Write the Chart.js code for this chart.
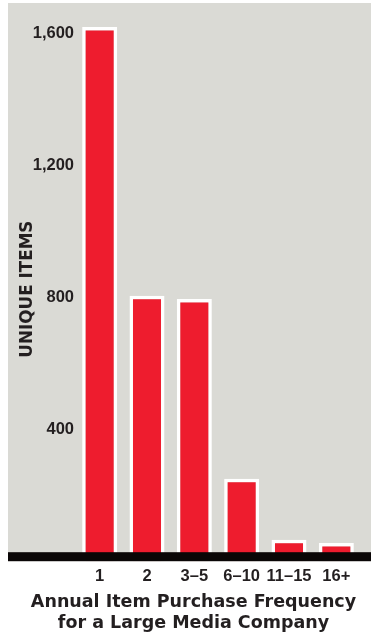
<!DOCTYPE html>
<html>
<head>
<meta charset="utf-8">
<script src="https://cdn.jsdelivr.net/npm/chart.js@4/dist/chart.umd.min.js"></script>
<style>
  html, body { margin: 0; padding: 0; background: #ffffff; }
  #wrap { width: 371px; height: 638px; }
</style>
</head>
<body>
<div id="wrap"><canvas id="chart" width="371" height="638"></canvas></div>
<script>
// Purchase-frequency buckets and how many unique items fall in each
const categories = ['1', '2', '3–5', '6–10', '11–15', '16+'];
const uniqueItems = [1620, 805, 795, 250, 65, 55];
const yTickValues = [400, 800, 1200, 1600];
const xTitleLines = ['Annual Item Purchase Frequency', 'for a Large Media Company'];
const yTitle = 'UNIQUE ITEMS';

const INK = '#231f20';
const BAR_RED = '#ee1c2e';
const PANEL = '#dadad5';

// Grey backdrop behind the plot and the heavy black baseline under the bars
const panelPlugin = {
  id: 'panel',
  beforeDraw(chart) {
    const { ctx, width } = chart;
    const base = chart.scales.y.getPixelForValue(0);
    ctx.save();
    ctx.fillStyle = PANEL;
    ctx.fillRect(8, 3, width - 8, base - 3);
    ctx.restore();
  },
  afterDatasetsDraw(chart) {
    const { ctx, width } = chart;
    const base = chart.scales.y.getPixelForValue(0);
    ctx.save();
    ctx.fillStyle = '#0a0606';
    ctx.fillRect(8, base - 9, width - 8, 9);
    ctx.restore();
  }
};

new Chart(document.getElementById('chart'), {
  type: 'bar',
  data: {
    labels: categories,
    datasets: [{
      data: uniqueItems,
      backgroundColor: BAR_RED,
      borderColor: '#ffffff',
      borderWidth: 3.5,
      borderSkipped: 'start',
      barPercentage: 0.74,
      categoryPercentage: 1
    }]
  },
  options: {
    responsive: false,
    animation: false,
    devicePixelRatio: 1,
    layout: { padding: { left: 16, right: 0, top: 17, bottom: 0 } },
    plugins: {
      legend: { display: false },
      tooltip: { enabled: false },
      title: {
        display: true,
        position: 'bottom',
        text: xTitleLines,
        color: INK,
        font: { family: 'DejaVu Sans', weight: 'bold', size: 17.5, lineHeight: 1.2 },
        padding: { top: 1, bottom: 4 }
      }
    },
    scales: {
      x: {
        grid: { display: false, drawTicks: false },
        border: { display: false },
        ticks: {
          color: INK,
          font: { family: 'Liberation Sans', weight: 'bold', size: 16.5 },
          padding: 5,
          maxRotation: 0,
          autoSkip: false
        }
      },
      y: {
        min: 0,
        max: 1650,
        afterBuildTicks: (scale) => { scale.ticks = yTickValues.map(v => ({ value: v })); },
        afterFit: (scale) => { scale.width = 60; },
        grid: { display: false, drawTicks: false },
        border: { display: false },
        ticks: {
          color: INK,
          font: { family: 'Liberation Sans', weight: 'bold', size: 16.5 },
          padding: 2,
          callback: (v) => Number(v).toLocaleString('en-US')
        },
        title: {
          display: true,
          text: yTitle,
          color: INK,
          font: { family: 'DejaVu Sans', weight: 'bold', size: 16.8, lineHeight: 1.2 },
          padding: { top: 1.4, bottom: 0 }
        }
      },
      yRight: {
        position: 'right',
        display: true,
        grid: { display: false, drawTicks: false },
        border: { display: false },
        ticks: { display: false },
        afterFit: (scale) => { scale.width = 11; }
      }
    }
  },
  plugins: [panelPlugin]
});
</script>
</body>
</html>
